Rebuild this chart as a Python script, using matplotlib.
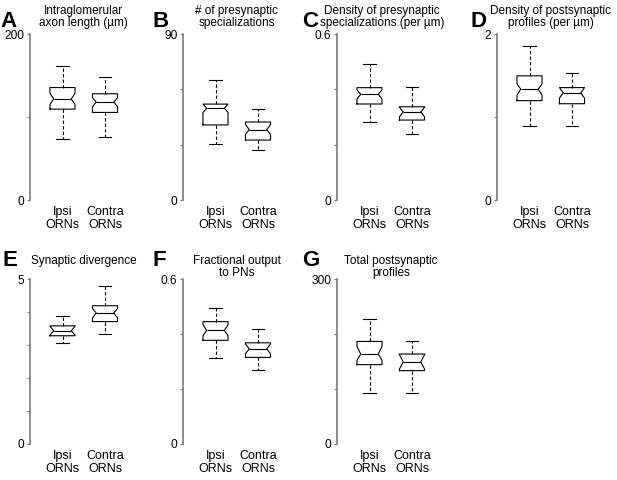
import matplotlib
matplotlib.use('Agg')
import matplotlib.pyplot as plt

plt.rcParams['font.family'] = ['Liberation Sans', 'DejaVu Sans']

# --- Data ---
# order of every list: whislo, q1, med, q3, whishi, cilo, cihi
group_labels = ['Ipsi\nORNs', 'Contra\nORNs']
panel_letters = ['A', 'B', 'C', 'D', 'E', 'F', 'G']
panel_titles = [
    'Intraglomerular\naxon length (µm)',
    '# of presynaptic\nspecializations',
    'Density of presynaptic\nspecializations (per µm)',
    'Density of postsynaptic\nprofiles (per µm)',
    'Synaptic divergence',
    'Fractional output\nto PNs',
    'Total postsynaptic\nprofiles',
]
y_max = [200, 90, 0.6, 2, 5, 0.6, 300]
y_step = [100, 30, 0.2, 1, 1, 0.2, 100]
y_max_labels = ['200', '90', '0.6', '2', '5', '0.6', '300']

axon_len_ipsi = [73.9, 109.5, 121.7, 135.5, 161.8, 115.3, 128.5]
axon_len_contra = [76.3, 105.5, 118.0, 128.0, 148.6, 112.4, 123.3]
pre_count_ipsi = [30.4, 40.7, 49.7, 52.0, 64.9, 47.5, 52.0]
pre_count_contra = [27.3, 32.5, 38.2, 42.3, 49.2, 35.5, 40.9]
pre_density_ipsi = [0.283, 0.347, 0.382, 0.406, 0.490, 0.365, 0.398]
pre_density_contra = [0.240, 0.289, 0.318, 0.337, 0.407, 0.301, 0.335]
post_density_ipsi = [0.89, 1.197, 1.337, 1.496, 1.857, 1.26, 1.40]
post_density_contra = [0.89, 1.16, 1.29, 1.354, 1.528, 1.228, 1.354]
divergence_ipsi = [3.07, 3.28, 3.43, 3.58, 3.88, 3.30, 3.57]
divergence_contra = [3.32, 3.71, 3.97, 4.19, 4.80, 3.82, 4.11]
pn_output_ipsi = [0.313, 0.377, 0.413, 0.445, 0.493, 0.394, 0.434]
pn_output_contra = [0.268, 0.315, 0.346, 0.368, 0.420, 0.328, 0.364]
post_total_ipsi = [92.4, 144.3, 163.6, 186.5, 227.6, 152.1, 177.5]
post_total_contra = [93.6, 133.4, 149.1, 163.6, 187.1, 136.4, 162.4]

panel_data = [
    (axon_len_ipsi, axon_len_contra),
    (pre_count_ipsi, pre_count_contra),
    (pre_density_ipsi, pre_density_contra),
    (post_density_ipsi, post_density_contra),
    (divergence_ipsi, divergence_contra),
    (pn_output_ipsi, pn_output_contra),
    (post_total_ipsi, post_total_contra),
]
STAT_KEYS = ['whislo', 'q1', 'med', 'q3', 'whishi', 'cilo', 'cihi']

# --- Layout (pixels) ---
W, H = 617, 480
PX_PER_UNIT = 42.5      # px between the two boxes
FIRST_OFFSET = 32.5     # px from spine to first box
AX_W = 100
BOX_W = 0.59
NOTCH = 0.70            # notch width relative to box width
spine_x = [30, 183, 337, 497, 30, 183, 337]
row_of = [0, 0, 0, 0, 1, 1, 1]
row_bottom = [200, 444]
row_top = [34, 279]
title_top = [5, 255]
letter_base = [27, 266]
letter_x = [0, 152, 302, 470, 2, 152, 302]
title_x = [1.5, 1.5, 1.3, 1.5, 1.5, 1.5, 1.5]
SPINE_COL = '#7a7a7a'

fig = plt.figure(figsize=(W / 100, H / 100), dpi=100)

for i in range(7):
    r = row_of[i]
    ax = fig.add_axes([spine_x[i] / W, 1 - row_bottom[r] / H,
                       AX_W / W, (row_bottom[r] - row_top[r]) / H])
    stats = []
    for vals, lab in zip(panel_data[i], group_labels):
        d = dict(zip(STAT_KEYS, vals))
        d['label'] = lab
        stats.append(d)
    parts = ax.bxp(stats, positions=[1, 2], widths=BOX_W, shownotches=True,
                   showfliers=False,
                   boxprops=dict(color='black', lw=0.8),
                   medianprops=dict(color='black', lw=0.8),
                   whiskerprops=dict(color='black', lw=0.8, linestyle=(0, (3, 2))),
                   capprops=dict(color='black', lw=0.8))
    # widen the notch a bit, like the original
    for pos, box, med in zip([1, 2], parts['boxes'], parts['medians']):
        xs = list(box.get_xdata())
        xs[3] = pos + BOX_W / 2 * NOTCH
        xs[8] = pos - BOX_W / 2 * NOTCH
        box.set_xdata(xs)
        med.set_xdata([pos - BOX_W / 2 * NOTCH, pos + BOX_W / 2 * NOTCH])

    x0 = 1 - FIRST_OFFSET / PX_PER_UNIT
    ax.set_xlim(x0, x0 + AX_W / PX_PER_UNIT)
    ax.set_ylim(0, y_max[i])
    n_ticks = int(round(y_max[i] / y_step[i])) + 1
    ticks = [k * y_step[i] for k in range(n_ticks)]
    ax.set_yticks(ticks)
    ax.set_yticklabels(['0'] + [''] * (n_ticks - 2) + [y_max_labels[i]])

    for s in ['top', 'right', 'bottom']:
        ax.spines[s].set_visible(False)
    ax.spines['left'].set_color(SPINE_COL)
    ax.spines['left'].set_linewidth(1.2)
    ax.tick_params(axis='y', length=2.5, width=0.8, color=SPINE_COL,
                   labelsize=8.6, pad=1.5)
    ax.tick_params(axis='x', length=0, labelsize=9, pad=4.5)
    for t in ax.get_xticklabels():
        t.set_linespacing(1.05)
    ax.patch.set_visible(False)

    # title, top aligned at a fixed height
    top_off = row_top[r] - title_top[r]
    ax.annotate(panel_titles[i], xy=(title_x[i], 1), xycoords=('data', 'axes fraction'),
                xytext=(0, top_off), textcoords='offset pixels',
                ha='center', va='top', fontsize=8.5, linespacing=0.95,
                annotation_clip=False)

    fig.text(letter_x[i] / W, 1 - letter_base[r] / H, panel_letters[i],
             fontsize=16, fontweight='bold', ha='left', va='baseline')

fig.savefig('out.png', dpi=100)
